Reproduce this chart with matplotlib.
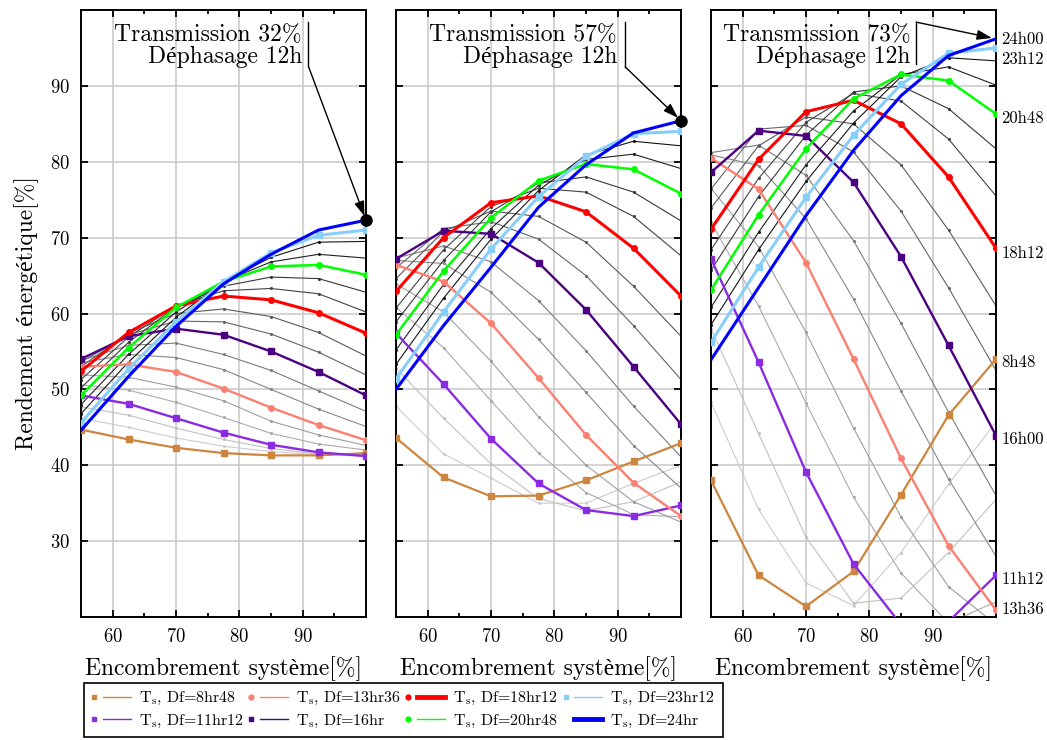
import matplotlib
matplotlib.use('Agg')
import matplotlib.pyplot as plt
from matplotlib.lines import Line2D
from matplotlib.legend_handler import HandlerBase

plt.rcParams['font.family'] = ['cmr10', 'Liberation Serif']
plt.rcParams['mathtext.fontset'] = 'cm'
plt.rcParams['axes.formatter.use_mathtext'] = True
plt.rcParams['axes.unicode_minus'] = False

# ---- data ----
encombrement = [55, 62.5, 70, 77.5, 85, 92.5, 100]
transmissions = ['32%', '57%', '73%']
df_names = ['8hr48', '11hr12', '13hr36', '16hr', '18hr12', '20hr48', '23hr12', '24hr']
df_right_labels = ['8h48', '11h12', '13h36', '16h00', '18h12', '20h48', '23h12', '24h00']
df_gray = [9.6, 10.4, 12.0, 12.8, 14.4, 15.2, 16.8, 17.6, 19.2, 20.0, 21.6, 22.4]

t32_colored = [
    [44.7, 43.4, 42.3, 41.6, 41.3, 41.3, 41.6],
    [49.2, 48.1, 46.2, 44.3, 42.7, 41.7, 41.2],
    [53.0, 53.3, 52.3, 50.1, 47.6, 45.3, 43.3],
    [54.0, 57.0, 58.0, 57.2, 55.0, 52.3, 49.2],
    [52.4, 57.5, 61.0, 62.3, 61.8, 60.1, 57.4],
    [49.2, 55.5, 60.8, 64.2, 66.2, 66.4, 65.1],
    [45.6, 52.7, 58.9, 64.2, 68.0, 70.3, 71.0],
    [44.6, 51.7, 58.3, 63.9, 67.8, 71.0, 72.3],
]
t32_gray = [
    [46.2, 45.0, 43.6, 42.5, 41.8, 41.4, 41.4],
    [47.7, 46.6, 44.9, 43.4, 42.2, 41.5, 41.3],
    [50.6, 49.9, 48.3, 46.3, 44.2, 42.8, 42.0],
    [51.9, 51.6, 50.3, 48.5, 45.8, 44.0, 42.6],
    [53.5, 54.6, 54.2, 52.6, 50.0, 47.4, 45.1],
    [53.8, 55.8, 56.1, 54.6, 52.5, 49.8, 47.1],
    [53.6, 57.2, 59.0, 58.9, 57.3, 54.9, 51.9],
    [53.0, 57.4, 60.0, 60.6, 59.6, 57.5, 54.4],
    [51.3, 56.9, 61.0, 63.0, 63.3, 62.6, 60.2],
    [50.2, 56.2, 60.9, 63.6, 64.8, 64.6, 62.8],
    [48.0, 54.6, 60.2, 64.2, 66.8, 67.8, 67.3],
    [46.8, 53.6, 59.5, 64.2, 67.4, 69.4, 69.5],
]

t57_colored = [
    [43.6, 38.4, 35.9, 36.0, 38.0, 40.5, 42.9],
    [57.4, 50.7, 43.5, 37.6, 34.1, 33.3, 34.7],
    [66.4, 64.2, 58.7, 51.5, 44.0, 37.7, 33.3],
    [67.2, 70.9, 70.5, 66.7, 60.5, 53.0, 45.4],
    [62.9, 70.0, 74.6, 75.5, 73.4, 68.6, 62.3],
    [57.2, 65.6, 72.6, 77.5, 79.7, 79.0, 75.8],
    [51.4, 60.2, 68.5, 75.4, 80.7, 83.7, 84.0],
    [50.0, 58.4, 66.1, 74.0, 79.6, 83.8, 85.4],
]
t57_gray = [
    [47.8, 41.5, 38.3, 35.0, 35.0, 37.6, 40.0],
    [52.8, 46.2, 40.2, 35.6, 34.0, 35.2, 37.8],
    [60.8, 55.5, 48.5, 41.6, 36.4, 33.5, 33.2],
    [63.9, 60.2, 53.7, 46.4, 40.0, 35.2, 32.5],
    [67.0, 66.6, 62.8, 56.6, 49.6, 42.6, 37.0],
    [67.3, 68.9, 66.8, 61.7, 55.1, 47.8, 41.1],
    [66.0, 71.2, 72.1, 69.8, 65.0, 58.4, 51.3],
    [64.6, 70.8, 73.5, 72.8, 69.4, 63.6, 57.0],
    [60.7, 68.4, 74.1, 76.5, 76.0, 72.8, 67.6],
    [58.9, 67.0, 73.4, 77.2, 78.0, 76.0, 72.2],
    [55.2, 63.8, 71.2, 76.9, 80.3, 81.0, 79.1],
    [53.3, 62.0, 69.8, 76.2, 80.9, 82.7, 82.1],
]

t73_colored = [
    [38.0, 25.5, 21.4, 26.0, 36.1, 46.6, 54.0],
    [67.2, 53.6, 39.1, 27.0, 19.0, 19.4, 25.5],
    [80.5, 76.4, 66.7, 54.0, 40.9, 29.4, 20.9],
    [78.6, 84.1, 83.4, 77.3, 67.5, 55.8, 43.9],
    [71.1, 80.3, 86.6, 88.1, 85.0, 78.0, 68.6],
    [63.1, 73.0, 81.7, 88.3, 91.5, 90.7, 86.3],
    [56.2, 66.1, 75.3, 83.5, 90.2, 94.3, 95.0],
    [53.9, 63.4, 72.9, 81.5, 88.7, 94.0, 96.2],
]
t73_gray = [
    [48.3, 34.2, 24.5, 21.5, 28.5, 37.5, 45.7],
    [58.0, 44.2, 30.5, 21.8, 22.5, 28.5, 35.5],
    [72.0, 61.0, 48.2, 35.8, 25.8, 19.2, 22.0],
    [76.5, 68.8, 57.5, 44.9, 33.2, 24.0, 19.0],
    [80.9, 79.5, 72.5, 61.9, 49.8, 38.2, 28.0],
    [81.2, 82.2, 78.2, 69.6, 58.7, 47.0, 36.0],
    [76.4, 84.3, 84.8, 81.3, 73.5, 63.4, 52.5],
    [73.9, 82.1, 85.9, 85.0, 79.6, 71.0, 61.0],
    [68.4, 77.8, 85.2, 89.0, 88.0, 83.0, 75.5],
    [65.7, 75.4, 83.5, 89.2, 90.0, 87.0, 81.7],
    [60.8, 70.7, 79.6, 86.7, 91.5, 92.5, 90.1],
    [58.5, 68.4, 77.4, 85.1, 91.2, 93.7, 93.3],
]

colored_sets = [t32_colored, t57_colored, t73_colored]
gray_sets = [t32_gray, t57_gray, t73_gray]

# ---- styles ----
colors = ['peru', 'blueviolet', 'salmon', 'indigo', 'red', 'lime', 'lightskyblue', 'blue']
markers = ['s', 's', 'o', 's', 'o', 'o', 's', '']
lws = [1.6, 1.7, 1.7, 1.7, 2.2, 1.8, 2.2, 2.2]
leg_lws = [1, 1, 1, 1, 3.5, 1, 1, 3.5]
label_dy = [-2.2, -2.9, 0.7, -2.9, -3.4, -2.9, -8.0, -0.7]   # points, keeps right labels apart

# annotation geometry (data coords)
annot = [
    dict(tx=89.9, vx=90.9, y0=98.4, y1=92.6, start='bottom', dot=True),
    dict(tx=89.9, vx=91.2, y0=98.4, y1=92.5, start='bottom', dot=True),
    dict(tx=86.5, vx=87.4, y0=98.4, y1=92.9, start='top', dot=False),
]


class MarkerThenLine(HandlerBase):
    def create_artists(self, legend, orig_handle, xdescent, ydescent,
                       width, height, fontsize, trans):
        x0 = -xdescent
        y = height / 2 - ydescent
        c = orig_handle.get_color()
        arts = [Line2D([x0 + 0.29 * width, x0 + width], [y, y], color=c,
                       lw=orig_handle.get_linewidth(), transform=trans)]
        m = orig_handle.get_marker()
        if m not in ('', 'None', None):
            arts.append(Line2D([x0 + 0.08 * width], [y], marker=m, color=c,
                               ms=3.5, ls='none', transform=trans))
        return arts


fig = plt.figure(figsize=(10.47, 7.40), dpi=100)
lefts = [81, 396, 711]
axes = []
for i in range(3):
    ax = fig.add_axes([lefts[i] / 1047, 1 - 617 / 740, 285 / 1047, 607 / 740])
    axes.append(ax)
    ax.set_xlim(55, 100)
    ax.set_ylim(20, 100)
    ax.set_xticks([60, 70, 80, 90])
    ax.set_xticks([65, 75, 85, 95], minor=True)
    ax.set_yticks([30, 40, 50, 60, 70, 80, 90])
    ax.grid(True, which='major', color='#c8c8c8', lw=1.1)
    ax.set_axisbelow(True)
    ax.tick_params(which='both', direction='in', top=True, right=True,
                   width=1.3, labelsize=13.5, pad=8)
    ax.tick_params(which='major', length=5)
    ax.tick_params(which='minor', length=3)
    for s in ax.spines.values():
        s.set_linewidth(1.4)
    if i > 0:
        ax.tick_params(labelleft=False)
    ax.set_xlabel('Encombrement système[%]', fontsize=17, labelpad=7)

    # gray intermediate curves
    for j, vals in enumerate(gray_sets[i]):
        g = 0.8 - 0.72 * (df_gray[j] - df_gray[0]) / (df_gray[-1] - df_gray[0])
        ax.plot(encombrement, vals, color=str(g), lw=0.8, marker='.', ms=2.5, zorder=2)

    # colored curves
    for k, vals in enumerate(colored_sets[i]):
        ax.plot(encombrement, vals, color=colors[k], lw=lws[k], marker=markers[k],
                ms=4, zorder=3)

    a = annot[i]
    blue = colored_sets[i][-1]
    ax.text(a['tx'], 95.3, 'Transmission ' + transmissions[i] + '\nDéphasage 12h',
            ha='right', va='center', multialignment='right', fontsize=17, linespacing=1.0,
            zorder=5)
    ax.plot([a['vx'], a['vx']], [a['y0'], a['y1']], color='k', lw=1, zorder=5)
    sy = a['y1'] if a['start'] == 'bottom' else a['y0']
    ax.annotate('', xy=(100, blue[-1]), xytext=(a['vx'], sy),
                arrowprops=dict(arrowstyle='-|>,head_length=0.9,head_width=0.3',
                                color='k', lw=1, shrinkA=0, shrinkB=3),
                annotation_clip=False, zorder=6)
    if a['dot']:
        ax.plot([100], [blue[-1]], 'o', color='k', ms=8, zorder=6, clip_on=False)

axes[0].set_ylabel('Rendement énergétique[%]', fontsize=17, labelpad=8)

# right-hand labels of last panel
for k, vals in enumerate(t73_colored):
    axes[2].annotate(df_right_labels[k], xy=(100, vals[-1]), xytext=(4, label_dy[k]),
                     textcoords='offset points', ha='left', va='center',
                     fontsize=12, annotation_clip=False)

handles = [Line2D([], [], color=colors[k], marker=markers[k], lw=leg_lws[k]) for k in range(8)]
labels = [r'T$_{\rm s}$, Df=' + n for n in df_names]
leg = fig.legend(handles, labels, ncol=4, loc='lower left',
                 bbox_to_anchor=(84 / 1047, 3 / 740), fontsize=11.5,
                 handler_map={Line2D: MarkerThenLine()}, handlelength=2.5,
                 handletextpad=0.5, columnspacing=0.25, labelspacing=0.35,
                 fancybox=False, edgecolor='k', framealpha=1, borderpad=0.45,
                 borderaxespad=0)
leg.get_frame().set_linewidth(1.2)

fig.savefig('out.png', dpi=100)
